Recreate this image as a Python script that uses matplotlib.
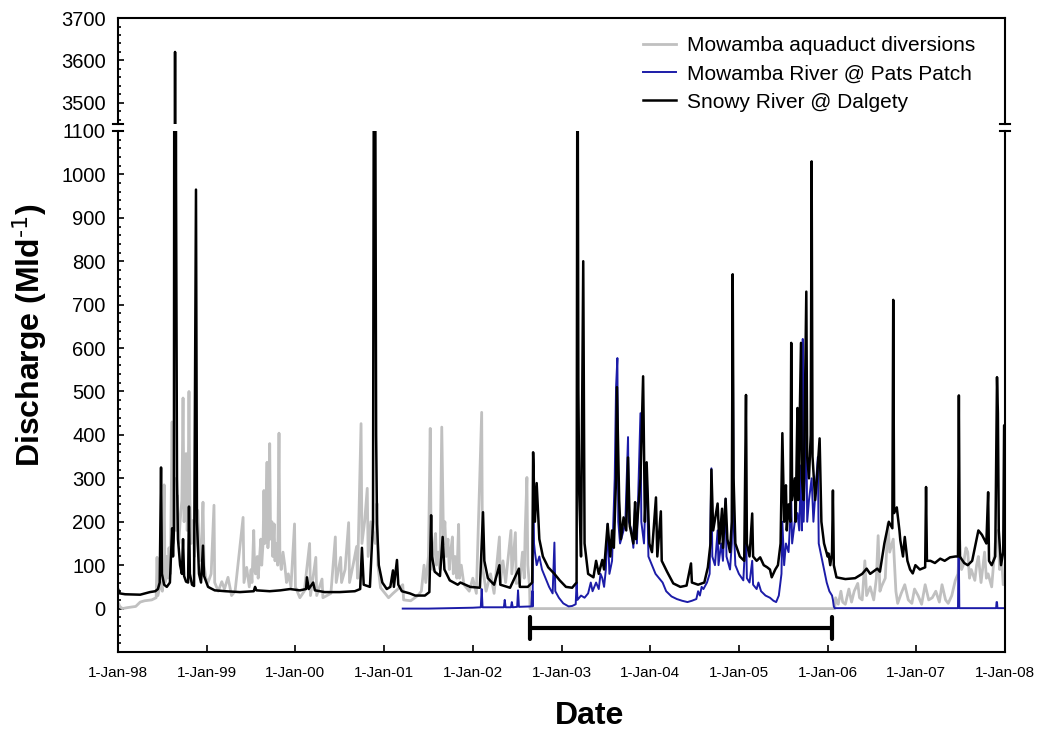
import matplotlib.pyplot as plt
import numpy as np
from matplotlib.ticker import MultipleLocator

plt.rcParams["font.family"] = ["Liberation Sans", "DejaVu Sans"]
plt.rcParams["mathtext.default"] = "regular"

# ---- 数据：从原图读取（十进制年份, Ml/d） ----
# Snowy River @ Dalgety
snowy_pts = [
    (1998.00, 45), (1998.02, 35), (1998.08, 33), (1998.25, 32), (1998.36, 38),
    (1998.42, 40), (1998.45, 45), (1998.47, 60), (1998.485, 325), (1998.495, 80),
    (1998.52, 55), (1998.55, 50), (1998.585, 60), (1998.61, 185), (1998.62, 120),
    (1998.63, 180), (1998.643, 3620), (1998.654, 990), (1998.665, 300), (1998.676, 160),
    (1998.70, 100), (1998.72, 80), (1998.733, 160), (1998.745, 75), (1998.767, 62),
    (1998.79, 60), (1998.80, 235), (1998.81, 80), (1998.834, 55), (1998.857, 52),
    (1998.879, 965), (1998.89, 200), (1998.913, 80), (1998.936, 60), (1998.958, 145),
    (1998.97, 75), (1999.015, 50), (1999.09, 42), (1999.21, 40), (1999.375, 38),
    (1999.53, 40), (1999.545, 50), (1999.56, 42), (1999.71, 40), (1999.83, 42),
    (1999.94, 45), (2000.05, 42), (2000.12, 45), (2000.13, 72), (2000.15, 45),
    (2000.20, 60), (2000.22, 42), (2000.33, 38), (2000.50, 38), (2000.67, 40),
    (2000.73, 45), (2000.75, 140), (2000.77, 55), (2000.84, 50), (2000.875, 200),
    (2000.886, 1500), (2000.897, 1500), (2000.91, 400), (2000.92, 195), (2000.94, 100),
    (2000.98, 60), (2001.03, 45), (2001.07, 50), (2001.10, 88), (2001.11, 50),
    (2001.145, 112), (2001.16, 55), (2001.20, 40), (2001.29, 35), (2001.35, 30),
    (2001.46, 30), (2001.51, 38), (2001.53, 215), (2001.54, 120), (2001.57, 85),
    (2001.63, 75), (2001.66, 165), (2001.68, 90), (2001.74, 65), (2001.83, 55),
    (2001.86, 60), (2001.97, 50), (2002.08, 48), (2002.115, 222), (2002.13, 110),
    (2002.17, 70), (2002.24, 55), (2002.30, 100), (2002.31, 55), (2002.42, 48),
    (2002.52, 92), (2002.53, 50), (2002.62, 50), (2002.67, 60), (2002.68, 360),
    (2002.70, 200), (2002.72, 289), (2002.75, 160), (2002.79, 120), (2002.85, 95),
    (2002.92, 80), (2002.98, 65), (2003.05, 50), (2003.12, 48), (2003.17, 60),
    (2003.18, 1500), (2003.19, 500), (2003.20, 265), (2003.22, 120), (2003.245, 800),
    (2003.26, 150), (2003.30, 80), (2003.36, 72), (2003.39, 110), (2003.42, 80),
    (2003.46, 112), (2003.48, 90), (2003.52, 195), (2003.55, 120), (2003.57, 180),
    (2003.59, 140), (2003.615, 300), (2003.625, 510), (2003.65, 250), (2003.67, 160),
    (2003.70, 210), (2003.73, 180), (2003.75, 348), (2003.77, 190), (2003.81, 150),
    (2003.83, 245), (2003.84, 160), (2003.89, 300), (2003.92, 535), (2003.94, 200),
    (2003.96, 337), (2003.99, 150), (2004.02, 130), (2004.065, 256), (2004.08, 120),
    (2004.12, 224), (2004.13, 110), (2004.19, 85), (2004.26, 58), (2004.34, 50),
    (2004.41, 53), (2004.46, 104), (2004.47, 60), (2004.54, 55), (2004.61, 60),
    (2004.65, 95), (2004.68, 150), (2004.69, 320), (2004.71, 180), (2004.75, 230),
    (2004.76, 242), (2004.78, 150), (2004.81, 230), (2004.82, 140), (2004.85, 253),
    (2004.87, 160), (2004.90, 130), (2004.92, 200), (2004.93, 770), (2004.94, 300),
    (2004.96, 150), (2005.01, 120), (2005.06, 110), (2005.08, 492), (2005.09, 150),
    (2005.12, 120), (2005.15, 219), (2005.16, 120), (2005.20, 110), (2005.24, 118),
    (2005.28, 100), (2005.32, 95), (2005.35, 90), (2005.37, 72), (2005.41, 90),
    (2005.44, 100), (2005.47, 150), (2005.49, 404), (2005.51, 200), (2005.53, 284),
    (2005.54, 180), (2005.56, 240), (2005.58, 200), (2005.59, 612), (2005.60, 250),
    (2005.63, 300), (2005.64, 200), (2005.66, 462), (2005.67, 250), (2005.70, 612),
    (2005.71, 300), (2005.73, 250), (2005.76, 730), (2005.77, 350), (2005.79, 300),
    (2005.81, 400), (2005.82, 1030), (2005.83, 350), (2005.86, 250), (2005.88, 300),
    (2005.91, 392), (2005.93, 200), (2005.96, 150), (2006.00, 120), (2006.01, 127),
    (2006.03, 100), (2006.05, 130), (2006.06, 272), (2006.07, 100), (2006.10, 72),
    (2006.20, 68), (2006.31, 70), (2006.39, 80), (2006.44, 92), (2006.48, 80),
    (2006.56, 92), (2006.59, 85), (2006.64, 150), (2006.67, 180), (2006.69, 200),
    (2006.73, 185), (2006.74, 711), (2006.75, 220), (2006.78, 233), (2006.81, 180),
    (2006.82, 157), (2006.85, 120), (2006.87, 165), (2006.90, 110), (2006.93, 90),
    (2006.96, 81), (2006.99, 100), (2007.04, 90), (2007.10, 95), (2007.11, 280),
    (2007.12, 110), (2007.16, 110), (2007.21, 105), (2007.27, 115), (2007.32, 110),
    (2007.38, 118), (2007.44, 120), (2007.47, 120), (2007.48, 491), (2007.49, 120),
    (2007.54, 105), (2007.58, 100), (2007.63, 110), (2007.67, 150), (2007.70, 180),
    (2007.74, 170), (2007.79, 150), (2007.81, 268), (2007.82, 110), (2007.85, 100),
    (2007.89, 120), (2007.91, 533), (2007.92, 450), (2007.93, 180), (2007.955, 100),
    (2007.98, 130), (2007.99, 422), (2008.00, 422),
]

# Mowamba River @ Pats Patch
patch_pts = [
    (2001.21, 0), (2001.50, 0), (2002.00, 2), (2002.09, 3), (2002.10, 45),
    (2002.11, 3), (2002.35, 3), (2002.36, 20), (2002.37, 3), (2002.43, 3),
    (2002.44, 15), (2002.45, 3), (2002.50, 4), (2002.51, 42), (2002.52, 4),
    (2002.66, 5), (2002.67, 40), (2002.675, 5), (2002.68, 345), (2002.69, 150),
    (2002.70, 130), (2002.72, 100), (2002.75, 120), (2002.78, 90), (2002.82, 70),
    (2002.86, 50), (2002.90, 35), (2002.92, 152), (2002.93, 40), (2002.97, 25),
    (2003.02, 12), (2003.08, 5), (2003.12, 6), (2003.16, 10), (2003.17, 60),
    (2003.18, 20), (2003.22, 30), (2003.26, 25), (2003.30, 35), (2003.33, 60),
    (2003.35, 40), (2003.39, 60), (2003.42, 45), (2003.44, 80), (2003.46, 70),
    (2003.48, 50), (2003.50, 90), (2003.52, 195), (2003.54, 80), (2003.57, 110),
    (2003.60, 300), (2003.615, 510), (2003.63, 577), (2003.64, 200), (2003.66, 150),
    (2003.70, 180), (2003.72, 200), (2003.75, 395), (2003.76, 200), (2003.79, 180),
    (2003.81, 140), (2003.83, 245), (2003.85, 150), (2003.89, 450), (2003.90, 200),
    (2003.93, 150), (2003.96, 330), (2003.98, 120), (2004.02, 100), (2004.06, 80),
    (2004.10, 70), (2004.14, 60), (2004.18, 40), (2004.24, 28), (2004.30, 22),
    (2004.36, 18), (2004.42, 15), (2004.47, 18), (2004.52, 22), (2004.54, 40),
    (2004.56, 30), (2004.58, 50), (2004.60, 45), (2004.64, 60), (2004.67, 80),
    (2004.69, 323), (2004.70, 120), (2004.73, 100), (2004.76, 180), (2004.77, 100),
    (2004.80, 150), (2004.82, 110), (2004.85, 253), (2004.86, 120), (2004.90, 90),
    (2004.92, 150), (2004.93, 765), (2004.94, 200), (2004.96, 100), (2005.00, 80),
    (2005.05, 65), (2005.08, 185), (2005.09, 70), (2005.12, 60), (2005.15, 110),
    (2005.16, 55), (2005.20, 45), (2005.22, 60), (2005.25, 40), (2005.30, 30),
    (2005.35, 25), (2005.39, 18), (2005.42, 15), (2005.45, 30), (2005.48, 80),
    (2005.49, 200), (2005.51, 100), (2005.53, 150), (2005.56, 130), (2005.59, 250),
    (2005.60, 150), (2005.63, 200), (2005.66, 220), (2005.68, 180), (2005.70, 330),
    (2005.71, 180), (2005.72, 621), (2005.73, 200), (2005.76, 420), (2005.77, 200),
    (2005.79, 250), (2005.82, 300), (2005.84, 200), (2005.89, 349), (2005.90, 150),
    (2005.93, 120), (2005.96, 90), (2005.99, 60), (2006.02, 40), (2006.05, 30),
    (2006.06, 20), (2006.07, 5), (2006.08, 1), (2007.47, 1), (2007.475, 120),
    (2007.48, 120), (2007.485, 1), (2007.90, 1), (2007.905, 15), (2007.91, 15),
    (2007.915, 1), (2008.00, 1),
]

# Mowamba aquaduct diversions
divert_pts = [
    (1998.00, 15), (1998.02, 5), (1998.05, 0), (1998.10, 2), (1998.20, 5),
    (1998.25, 15), (1998.30, 18), (1998.38, 20), (1998.43, 25), (1998.44, 118),
    (1998.45, 30), (1998.48, 60), (1998.50, 40), (1998.52, 285), (1998.53, 60),
    (1998.545, 120), (1998.56, 70), (1998.575, 140), (1998.59, 80), (1998.61, 430),
    (1998.62, 150), (1998.64, 300), (1998.655, 180), (1998.67, 260), (1998.685, 150),
    (1998.70, 200), (1998.72, 250), (1998.733, 485), (1998.745, 200), (1998.755, 280),
    (1998.767, 357), (1998.78, 180), (1998.79, 260), (1998.80, 500), (1998.81, 250),
    (1998.825, 150), (1998.846, 203), (1998.86, 120), (1998.88, 160), (1998.90, 226),
    (1998.92, 110), (1998.94, 140), (1998.958, 245), (1998.97, 100), (1998.99, 70),
    (1999.015, 60), (1999.05, 80), (1999.082, 238), (1999.09, 60), (1999.13, 40),
    (1999.17, 62), (1999.20, 45), (1999.24, 72), (1999.28, 30), (1999.32, 40),
    (1999.41, 210), (1999.42, 60), (1999.45, 95), (1999.48, 50), (1999.50, 90),
    (1999.51, 60), (1999.53, 180), (1999.54, 90), (1999.55, 80), (1999.57, 120),
    (1999.58, 70), (1999.60, 130), (1999.61, 160), (1999.62, 100), (1999.635, 150),
    (1999.645, 272), (1999.655, 150), (1999.665, 200), (1999.68, 337), (1999.69, 140),
    (1999.70, 180), (1999.71, 380), (1999.72, 160), (1999.735, 200), (1999.745, 120),
    (1999.76, 195), (1999.77, 110), (1999.785, 150), (1999.80, 100), (1999.815, 404),
    (1999.825, 120), (1999.84, 90), (1999.86, 130), (1999.88, 100), (1999.90, 60),
    (1999.92, 80), (1999.95, 50), (1999.99, 195), (2000.00, 50), (2000.05, 25),
    (2000.10, 40), (2000.16, 150), (2000.17, 30), (2000.23, 118), (2000.24, 30),
    (2000.30, 68), (2000.31, 25), (2000.40, 35), (2000.45, 165), (2000.46, 60),
    (2000.51, 118), (2000.52, 60), (2000.56, 90), (2000.60, 198), (2000.61, 60),
    (2000.65, 100), (2000.69, 143), (2000.70, 70), (2000.74, 426), (2000.75, 150),
    (2000.78, 200), (2000.81, 277), (2000.82, 120), (2000.85, 200), (2000.90, 150),
    (2000.92, 242), (2000.93, 100), (2000.96, 48), (2001.05, 25), (2001.10, 35),
    (2001.21, 55), (2001.22, 20), (2001.30, 18), (2001.38, 30), (2001.42, 40),
    (2001.45, 100), (2001.47, 60), (2001.50, 120), (2001.52, 415), (2001.53, 150),
    (2001.545, 90), (2001.56, 140), (2001.58, 173), (2001.59, 100), (2001.61, 130),
    (2001.63, 90), (2001.65, 418), (2001.66, 290), (2001.67, 150), (2001.685, 200),
    (2001.70, 120), (2001.72, 160), (2001.735, 90), (2001.75, 130), (2001.77, 165),
    (2001.78, 80), (2001.80, 120), (2001.82, 70), (2001.84, 194), (2001.85, 70),
    (2001.87, 100), (2001.90, 55), (2001.96, 40), (2002.00, 70), (2002.04, 35),
    (2002.10, 452), (2002.11, 95), (2002.15, 40), (2002.20, 80), (2002.24, 35),
    (2002.30, 165), (2002.31, 60), (2002.34, 110), (2002.37, 60), (2002.43, 180),
    (2002.44, 80), (2002.48, 175), (2002.49, 58), (2002.53, 60), (2002.56, 130),
    (2002.58, 70), (2002.59, 175), (2002.61, 302), (2002.62, 100), (2002.64, 50),
    (2002.645, 0), (2006.08, 0), (2006.09, 25), (2006.12, 10), (2006.15, 40),
    (2006.17, 15), (2006.20, 10), (2006.24, 45), (2006.27, 15), (2006.30, 40),
    (2006.34, 58), (2006.36, 25), (2006.39, 20), (2006.42, 110), (2006.44, 30),
    (2006.48, 50), (2006.52, 20), (2006.55, 70), (2006.57, 168), (2006.59, 40),
    (2006.61, 52), (2006.65, 70), (2006.68, 196), (2006.70, 130), (2006.74, 160),
    (2006.77, 40), (2006.79, 12), (2006.83, 35), (2006.87, 55), (2006.91, 20),
    (2006.95, 12), (2006.98, 45), (2007.02, 30), (2007.06, 10), (2007.10, 55),
    (2007.14, 20), (2007.18, 25), (2007.22, 40), (2007.26, 15), (2007.29, 55),
    (2007.33, 20), (2007.36, 12), (2007.40, 30), (2007.44, 65), (2007.47, 80),
    (2007.49, 157), (2007.51, 90), (2007.53, 100), (2007.56, 140), (2007.58, 130),
    (2007.60, 70), (2007.62, 90), (2007.66, 65), (2007.68, 100), (2007.70, 120),
    (2007.73, 60), (2007.75, 95), (2007.77, 130), (2007.79, 70), (2007.81, 80),
    (2007.85, 50), (2007.87, 100), (2007.89, 150), (2007.92, 180), (2007.94, 90),
    (2007.96, 120), (2007.98, 55), (2008.00, 60),
]

year_ticks = list(range(1998, 2009))
year_labels = ["1-Jan-%02d" % (y % 100) for y in year_ticks]

# 研究时段（底部横括号）
bracket_start, bracket_end, bracket_level = 2002.645, 2006.046, -45

series = [
    (divert_pts, "#c0c0c0", 2.0, "Mowamba aquaduct diversions"),
    (patch_pts, "#1c1ca8", 1.4, "Mowamba River @ Pats Patch"),
    (snowy_pts, "black", 1.8, "Snowy River @ Dalgety"),
]

fig = plt.figure(figsize=(10.38, 7.33), dpi=100)
ax_top = fig.add_axes([0.1137, 0.8308, 0.8545, 0.1446])
ax = fig.add_axes([0.1137, 0.1105, 0.8545, 0.7108])

for a in (ax_top, ax):
    for pts, color, lw, label in series:
        t, q = np.array(pts).T
        a.plot(t, q, color=color, lw=lw, label=label)
    a.set_xlim(1998, 2008)
    for s in a.spines.values():
        s.set_linewidth(1.5)
    a.tick_params(which="both", direction="in", width=1.2, labelsize=14.5, pad=9)
    a.tick_params(which="major", length=4)
    a.tick_params(which="minor", length=2.5)
    a.yaxis.set_minor_locator(MultipleLocator(20))

# 上半部分：断轴顶部 3450-3700
ax_top.set_ylim(3450, 3700)
ax_top.set_yticks([3500, 3600, 3700])
ax_top.spines["bottom"].set_visible(False)
ax_top.tick_params(axis="x", which="both", bottom=False, labelbottom=False)

# 下半部分：-100 ~ 1100
ax.set_ylim(-100, 1100)
ax.set_yticks(range(0, 1101, 100))
ax.spines["top"].set_visible(False)
ax.set_xticks(year_ticks)
ax.set_xticklabels(year_labels, fontsize=11)
ax.tick_params(axis="x", length=5, pad=10)

# 断轴标记
for a, y0 in ((ax_top, 0), (ax, 1)):
    for x0 in (0, 1):
        a.plot([x0 - 0.006, x0 + 0.006], [y0, y0], transform=a.transAxes,
               color="black", lw=1.5, clip_on=False)

# 研究时段横括号
ax.plot([bracket_start, bracket_end], [bracket_level, bracket_level],
        color="black", lw=3, solid_capstyle="butt")
for xb in (bracket_start, bracket_end):
    ax.plot([xb, xb], [bracket_level - 26, bracket_level + 26], color="black", lw=3,
            solid_capstyle="round")

ax_top.legend(loc="upper right", bbox_to_anchor=(975 / 1038, 1 - 36 / 733),
              bbox_transform=fig.transFigure, frameon=False, fontsize=15,
              handlelength=1.6, handletextpad=0.5, labelspacing=0.45,
              borderaxespad=0, borderpad=0)

fig.text(30 / 1038, 1 - 335 / 733, "Discharge (Mld$^{\\text{-1}}$)", rotation=90,
         ha="center", va="center", fontsize=23, fontweight="bold")
fig.text(590 / 1038, 1 - 716 / 733, "Date", ha="center", va="center",
         fontsize=23, fontweight="bold")

plt.savefig("out.png", dpi=100)
